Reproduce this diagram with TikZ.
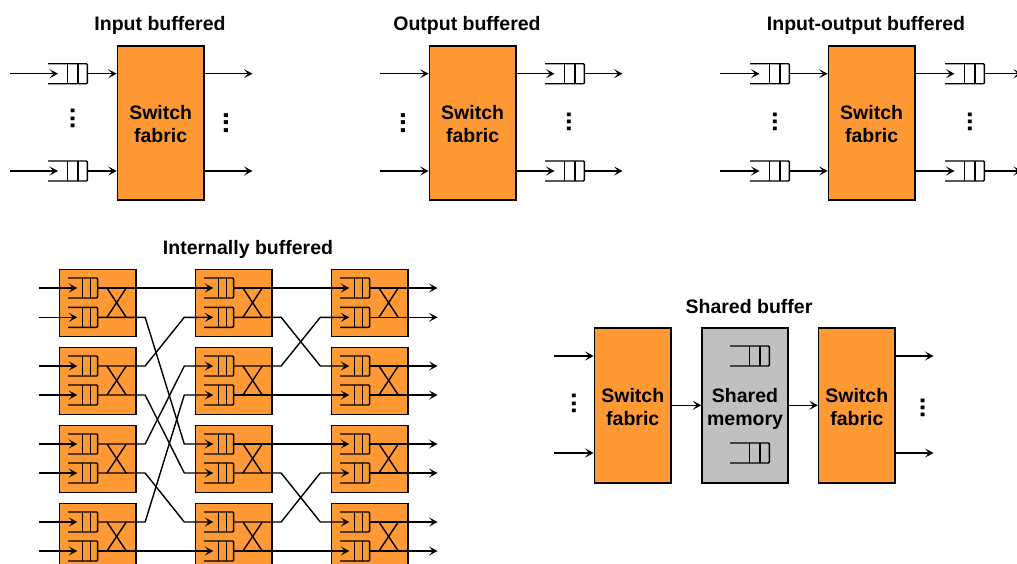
\documentclass[tikz,border=0pt]{standalone}
\usepackage{fontspec}
\setmainfont{Liberation Sans}
\usetikzlibrary{arrows.meta,positioning,calc}
\definecolor{fabricorange}{HTML}{FF9933}
\definecolor{memgray}{HTML}{C0C0C0}
\tikzset{
	line/.style={line width=1.4pt},
	wire/.style={line, -{Stealth[length=8.5pt,width=9pt,inset=4pt]}},
	title/.style={font=\fontsize{19.5}{23}\selectfont\bfseries, inner sep=0pt},
	swbox/.style={draw, line width=1.6pt, fill=fabricorange, anchor=north west, inner sep=0pt, align=center,
		font=\fontsize{19.5}{23}\selectfont\bfseries, minimum width=86.4pt, minimum height=154.4pt,
		text height=44.6pt, text depth=5pt},
	smallbox/.style={draw, line width=1.6pt, fill=fabricorange, anchor=north west, inner sep=0pt,
		minimum width=76.5pt, minimum height=67pt},
	vdot/.style={rotate=90, inner sep=0pt, font=\fontsize{28}{28}\selectfont\bfseries},
	vdotsmall/.style={rotate=90, inner sep=0pt, font=\fontsize{26}{26}\selectfont\bfseries},
	pics/bufq/.style={code={
		\draw [line, rounded corners=1pt] (0,-10) -- (39.4,-10) -- (39.4,10) -- (0,10);
		\draw [line] (19.7,-10) -- (19.7,10);
		\draw [line] (30,-10) -- (30,10);
		\coordinate (-in) at (0,0);
		\coordinate (-out) at (39.4,0);
	}},
}
\begin{document}
\begin{tikzpicture}[x=1pt,y=-1pt]
	\useasboundingbox (0,0) rectangle (1017,563);

	% input buffered
	\node [title] (titleIn) at (160,25) {Input buffered};
	\node [swbox] (swIn) at (116.7,45) {Switch\\fabric};
	\pic (qIn1) at (48,73.7) {bufq};
	\pic (qIn2) at (48,171) {bufq};
	\coordinate (inIn1) at (10,73.7);
	\coordinate (inIn2) at (10,171);
	\coordinate (outIn1) at (252.5,73.7);
	\coordinate (outIn2) at (252.5,171);
	\foreach \k in {1,2} {
		\draw [wire] (inIn\k) -- ([xshift=10pt]qIn\k-in);
		\draw [wire] (qIn\k-out) -- (qIn\k-out -| swIn.west);
		\draw [wire] (swIn.east |- outIn\k) -- (outIn\k);
	}
	\node [vdotsmall] (dotsIn1) at (72.7,118.5) {...};
	\node [vdot] (dotsIn2) at (226.5,123) {...};

	% output buffered
	\node [title] (titleOut) at (467,25) {Output buffered};
	\node [swbox] (swOut) at (428.6,45) {Switch\\fabric};
	\pic (qOut1) at (545,73.7) {bufq};
	\pic (qOut2) at (545,171) {bufq};
	\coordinate (inOut1) at (380,73.7);
	\coordinate (inOut2) at (380,171);
	\coordinate (outOut1) at (622.5,73.7);
	\coordinate (outOut2) at (622.5,171);
	\foreach \k in {1,2} {
		\draw [wire] (inOut\k) -- (swOut.west |- inOut\k);
		\draw [wire] (swOut.east |- qOut\k-in) -- ([xshift=9.5pt]qOut\k-in);
		\draw [wire] (qOut\k-out) -- (outOut\k);
	}
	\node [vdot] (dotsOut1) at (403,123) {...};
	\node [vdotsmall] (dotsOut2) at (569,122) {...};

	% input-output buffered
	\node [title] (titleIo) at (866,25) {Input-output buffered};
	\node [swbox] (swIo) at (827.6,45) {Switch\\fabric};
	\pic (qIoa1) at (750,73.7) {bufq};
	\pic (qIoa2) at (750,171) {bufq};
	\pic (qIob1) at (945,73.7) {bufq};
	\pic (qIob2) at (945,171) {bufq};
	\coordinate (inIo1) at (720.4,73.7);
	\coordinate (inIo2) at (720.4,171);
	\coordinate (outIo1) at (1022,73.7);
	\coordinate (outIo2) at (1022,171);
	\foreach \k in {1,2} {
		\draw [wire] (inIo\k) -- ([xshift=9.5pt]qIoa\k-in);
		\draw [wire] (qIoa\k-out) -- (qIoa\k-out -| swIo.west);
		\draw [wire] (swIo.east |- qIob\k-in) -- ([xshift=9.5pt]qIob\k-in);
		\draw [wire] (qIob\k-out) -- (outIo\k);
	}
	\node [vdotsmall] (dotsIo1) at (775,122) {...};
	\node [vdotsmall] (dotsIo2) at (970,122) {...};

	% internally buffered
	\node [title] (titleInt) at (248,249) {Internally buffered};
	\foreach \c/\xc in {A/58.6,B/194.6,C/330.6} {
		\foreach \r/\yr in {1/268.8,2/346.8,3/424.8,4/502.8}
			\node [smallbox] (sw\c\r) at (\xc,\yr) {};
		\foreach \k/\yk in {1/288,2/317.3,3/366,4/395,5/444,6/473,7/522,8/551}
			\pic [xscale=.75] (q\c\k) at (\xc+9.4,\yk) {bufq};
		\foreach \r/\ka/\kb in {1/1/2,2/3/4,3/5/6,4/7/8} {
			\draw [line] ([xshift=9.4pt]q\c\ka-out) -- ([xshift=28.7pt]q\c\kb-out);
			\draw [line] ([xshift=28.7pt]q\c\ka-out) -- ([xshift=9.4pt]q\c\kb-out);
		}
	}
	\foreach \k/\yk in {1/288,2/317.3,3/366,4/395,5/444,6/473,7/522,8/551} {
		\coordinate (inInt\k) at (39,\yk);
		\coordinate (outInt\k) at (437.5,\yk);
		\draw [wire] (inInt\k) -- ([xshift=9.3pt]qA\k-in);
		\draw [wire] (qC\k-out) -- (outInt\k);
	}
	\foreach \a/\b in {1/1,2/5,3/2,4/6,5/3,6/7,7/4,8/8}
		\draw [wire] (qA\a-out) -- ++(47.6,0) -- ([xshift=-19.7pt]qB\b-in) -- ([xshift=9.3pt]qB\b-in);
	\foreach \a/\b in {1/1,2/3,3/2,4/4,5/5,6/7,7/6,8/8}
		\draw [wire] (qB\a-out) -- ++(47.6,0) -- ([xshift=-19.7pt]qC\b-in) -- ([xshift=9.3pt]qC\b-in);

	% shared buffer
	\node [title] (titleSh) at (749,307) {Shared buffer};
	\node [swbox, minimum width=76.7pt, minimum height=155pt] (swSha) at (593.6,327) {Switch\\fabric};
	\node [swbox, fill=memgray, minimum width=86pt, minimum height=155pt] (mem) at (701.2,327) {Shared\\memory};
	\node [swbox, minimum width=76.4pt, minimum height=155pt] (swShb) at (817.8,327) {Switch\\fabric};
	\pic (qSh1) at (730,356) {bufq};
	\pic (qSh2) at (730,453) {bufq};
	\coordinate (inSh1) at (554,356);
	\coordinate (inSh2) at (554,453);
	\coordinate (outSh1) at (933.5,356);
	\coordinate (outSh2) at (933.5,453);
	\foreach \k in {1,2} {
		\draw [wire] (inSh\k) -- (swSha.west |- inSh\k);
		\draw [wire] (swShb.east |- outSh\k) -- (outSh\k);
	}
	\draw [wire] (swSha.east) -- (mem.west);
	\draw [wire] (mem.east) -- (swShb.west);
	\node [vdotsmall] (dotsSh1) at (574,403.5) {...};
	\node [vdotsmall] (dotsSh2) at (922.7,408) {...};
\end{tikzpicture}
\end{document}
